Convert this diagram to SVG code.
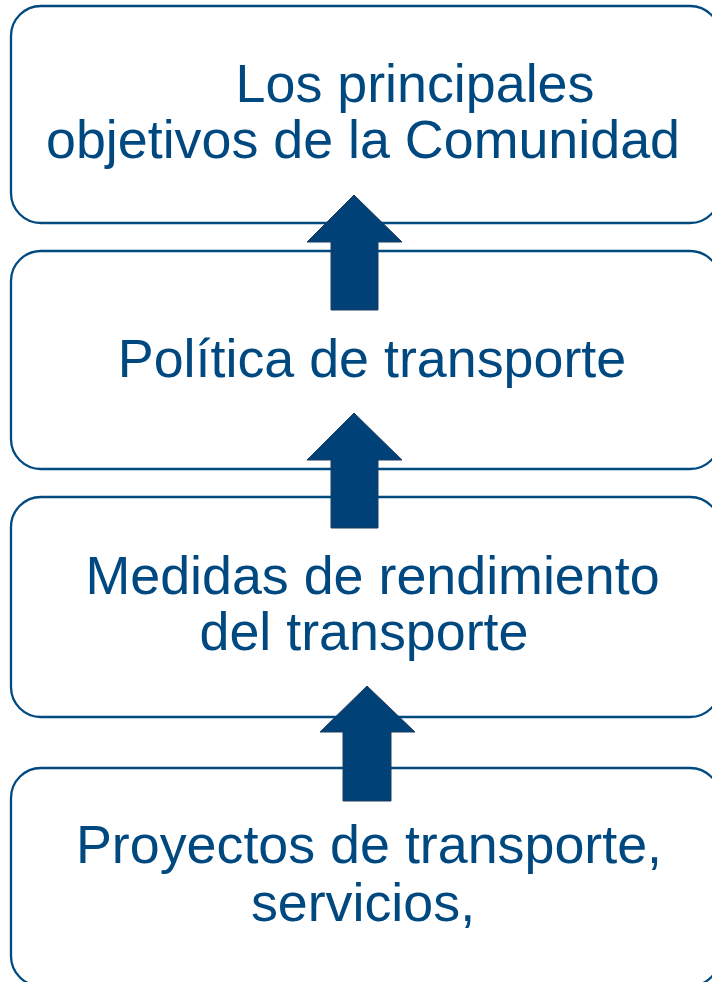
<svg xmlns="http://www.w3.org/2000/svg" width="712" height="982" viewBox="0 0 712 982">
<style>
.box{fill:#ffffff;stroke:#004a80;stroke-width:2.3}
.lbl{font-family:"Liberation Sans",Arial,sans-serif;font-size:53.8px;fill:#004880;text-anchor:middle}
.arr{fill:#004178;stroke:#1e3c5e;stroke-width:1}
</style>
<rect width="712" height="982" fill="#ffffff"/>
<g id="node1">
<rect class="box" x="11" y="6" width="709" height="217" rx="30" ry="30"/>
<text class="lbl" x="415" y="102">Los principales</text>
<text class="lbl" x="363" y="158">objetivos de la Comunidad</text>
</g>
<g id="node2">
<rect class="box" x="11" y="251" width="709" height="218" rx="30" ry="30"/>
<text class="lbl" x="372" y="377">Política de transporte</text>
</g>
<g id="node3">
<rect class="box" x="11" y="497" width="709" height="220" rx="30" ry="30"/>
<text class="lbl" x="372.5" y="594">Medidas de rendimiento</text>
<text class="lbl" x="364" y="650">del transporte</text>
</g>
<g id="node4">
<rect class="box" x="11" y="768" width="709" height="218" rx="30" ry="30"/>
<text class="lbl" x="369" y="863">Proyectos de transporte,</text>
<text class="lbl" x="363" y="921">servicios,</text>
</g>
<g id="connectors">
<polygon class="arr" points="354,195 402,242 378,242 378,310 331,310 331,242 307,242"/>
<polygon class="arr" points="354,413 402,460 378,460 378,528 331,528 331,460 307,460"/>
<polygon class="arr" points="367,686 415,732 391,732 391,801 343,801 343,732 320,732"/>
</g>
</svg>
